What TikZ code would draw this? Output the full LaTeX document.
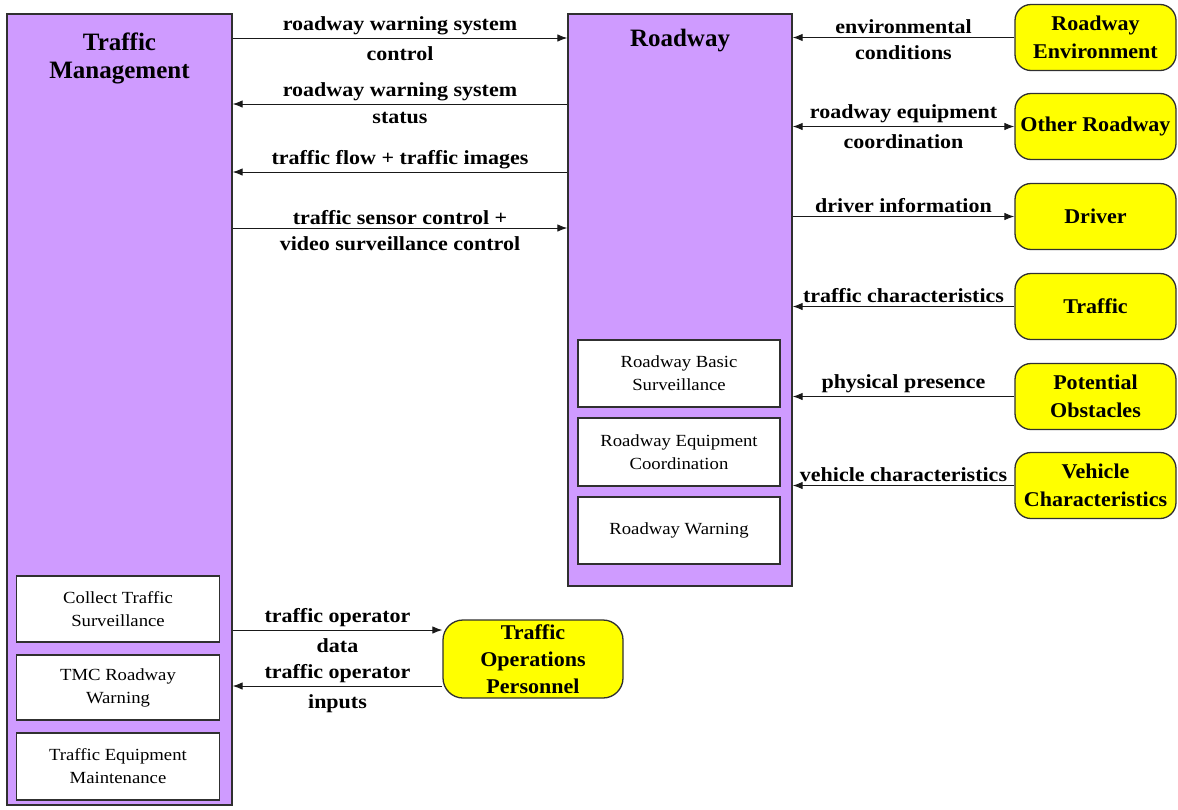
\documentclass[tikz,border=0pt]{standalone}
\usepackage{fontspec}
\setmainfont{Liberation Serif}
\newfontfamily\lblfont[FakeStretch=1.1]{Liberation Serif}
\newfontfamily\termfont[FakeStretch=1.05]{Liberation Serif}
\newfontfamily\subfont[FakeStretch=1.1]{Liberation Serif}
\usetikzlibrary{arrows.meta}
\definecolor{purp}{HTML}{CF9BFF}
\definecolor{ylw}{HTML}{FFFF00}
\definecolor{edge}{HTML}{303030}
\begin{document}
\begin{tikzpicture}[x=1pt,y=-1pt,
  sys/.style={draw=edge,line width=1.3pt,fill=purp,inner sep=0pt},
  title/.style={align=center,inner sep=0pt,font=\fontsize{25}{28}\selectfont\bfseries},
  sub/.style={draw=edge,line width=1.2pt,fill=white,minimum width=203pt,align=center,
    inner sep=0pt,font=\subfont\fontsize{17}{23}\selectfont},
  term/.style={draw=edge,line width=1.3pt,fill=ylw,rounded corners=16pt,minimum width=161pt,
    minimum height=66pt,align=center,inner sep=0pt,font=\termfont\fontsize{21}{28}\selectfont\bfseries},
  flow/.style={line width=1pt,draw=black!90,-{Latex[length=10pt,width=7.5pt]}},
  both/.style={line width=1pt,draw=black!90,{Latex[length=10pt,width=7.5pt]}-{Latex[length=10pt,width=7.5pt]}},
  lbl/.style={font=\lblfont\fontsize{20}{24}\selectfont\bfseries,inner sep=2pt},
  up/.style={lbl,midway,above=1pt},
  dn/.style={lbl,midway,below=6pt}]
\useasboundingbox (0,0) rectangle (1178,809);

% main systems
\node[sys,minimum width=225pt,minimum height=791pt] (tm) at (119.5,409.5) {};
\node[title] (tmt) at (119.5,58) {Traffic\\Management};
\node[sys,minimum width=224pt,minimum height=572pt] (rw) at (680,300) {};
\node[title] (rwt) at (680,41) {Roadway};

% subsystem boxes
\node[sub,minimum height=66pt] (cts) at (118,609) {Collect Traffic\\Surveillance};
\node[sub,minimum height=65pt] (tmc) at (118,687.5) {TMC Roadway\\Warning};
\node[sub,minimum height=67pt] (tem) at (118,766.5) {Traffic Equipment\\Maintenance};
\node[sub,minimum width=202pt,minimum height=67pt] (rbs) at (679,373.5) {Roadway Basic\\Surveillance};
\node[sub,minimum width=202pt,minimum height=68pt] (rec) at (679,452) {Roadway Equipment\\Coordination};
\node[sub,minimum width=202pt,minimum height=67pt] (rwn) at (679,530.5) {Roadway Warning};

% terminators
\node[term] (env) at (1095.5,37.5) {Roadway\\Environment};
\node[term] (orw) at (1095.5,126.5) {Other Roadway};
\node[term] (drv) at (1095.5,216.5) {Driver};
\node[term] (trf) at (1095.5,306.5) {Traffic};
\node[term] (pob) at (1095.5,396.5) {Potential\\Obstacles};
\node[term] (veh) at (1095.5,485.5) {Vehicle\\Characteristics};
\node[term,minimum width=180pt,minimum height=78pt,rounded corners=20pt,
  font=\termfont\fontsize{21}{27}\selectfont\bfseries] (top) at (533,659) {Traffic\\Operations\\Personnel};

% flows between Traffic Management and Roadway
\draw[flow] (tm.east |- 0,38) -- (rw.west |- 0,38)
  node[up]{roadway warning system} node[dn]{control};
\draw[flow] (rw.west |- 0,104) -- (tm.east |- 0,104)
  node[up]{roadway warning system} node[dn]{status};
\draw[flow] (rw.west |- 0,172) -- (tm.east |- 0,172)
  node[up]{traffic flow + traffic images};
\draw[flow] (tm.east |- 0,228) -- (rw.west |- 0,228)
  node[up]{traffic sensor control +} node[dn]{video surveillance control};

% flows on the right
\draw[flow] (env.west) -- (rw.east |- env.west)
  node[up]{environmental} node[dn]{conditions};
\draw[both] (rw.east |- orw.west) -- (orw.west)
  node[up]{roadway equipment} node[dn]{coordination};
\draw[flow] (rw.east |- drv.west) -- (drv.west)
  node[up]{driver information};
\draw[flow] (trf.west) -- (rw.east |- trf.west)
  node[up]{traffic characteristics};
\draw[flow] (pob.west) -- (rw.east |- pob.west)
  node[up]{physical presence};
\draw[flow] (veh.west) -- (rw.east |- veh.west)
  node[up]{vehicle characteristics};

% flows with operations personnel
\draw[flow] (tm.east |- 0,630) -- (top.west |- 0,630)
  node[up]{traffic operator} node[dn]{data};
\draw[flow] (top.west |- 0,686) -- (tm.east |- 0,686)
  node[up]{traffic operator} node[dn]{inputs};
\end{tikzpicture}
\end{document}
